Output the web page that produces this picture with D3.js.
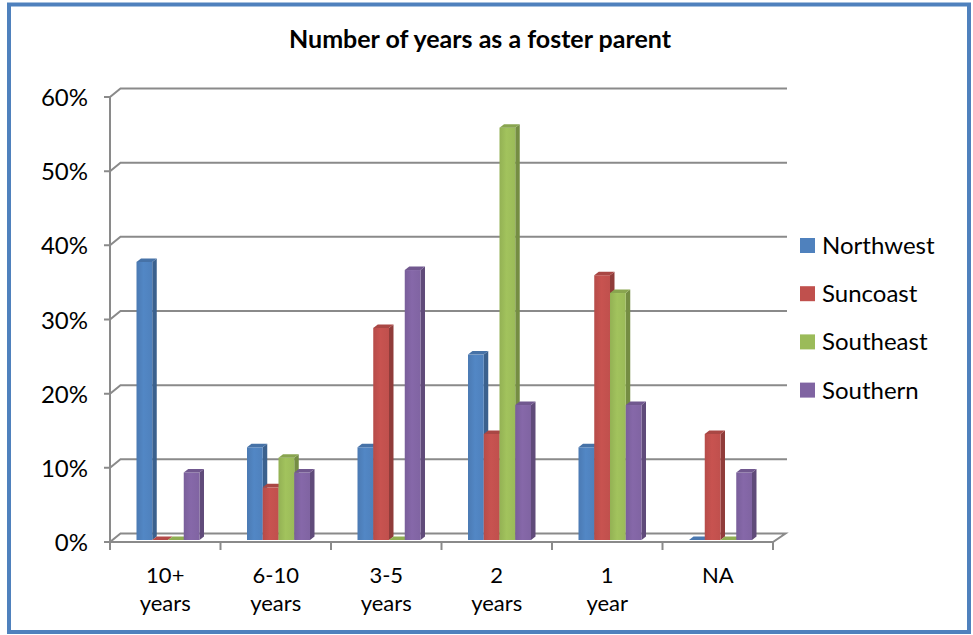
<!DOCTYPE html>
<html>
<head>
<meta charset="utf-8">
<script src="https://cdn.jsdelivr.net/npm/d3@7/dist/d3.min.js"></script>
<style>
body { margin: 0; background: #fff; }
svg text { font-family: Lato, "Open Sans", sans-serif; fill: #000; }
</style>
</head>
<body>
<div id="chart"></div>
<script>
// ---- data ----
var categories = ["10+ years", "6-10 years", "3-5 years", "2 years", "1 year", "NA"];
var labelLines = [["10+", "years"], ["6-10", "years"], ["3-5", "years"], ["2", "years"], ["1", "year"], ["NA"]];
var seriesNames = ["Northwest", "Suncoast", "Southeast", "Southern"];
var northwest = [37.5, 12.5, 12.5, 25, 12.5, 0];
var suncoast  = [0, 7.1, 28.6, 14.3, 35.7, 14.3];
var southeast = [0, 11.1, 0, 55.6, 33.3, 0];
var southern  = [9.1, 9.1, 36.4, 18.2, 18.2, 9.1];
var yTicks = [0, 10, 20, 30, 40, 50, 60];

var seriesValues = [northwest, suncoast, southeast, southern];
var colors = ["#4F81BD", "#C0504D", "#9BBB59", "#8064A2"];

var width = 973, height = 635;
var svg = d3.select("#chart").append("svg")
    .attr("width", width)
    .attr("height", height);

// outer border
svg.append("rect")
    .attr("x", 9).attr("y", 4.5)
    .attr("width", 960).attr("height", 627.5)
    .attr("fill", "#fff")
    .attr("stroke", "#4F81BD")
    .attr("stroke-width", 4);

// title
svg.append("text")
    .attr("x", 480).attr("y", 48)
    .attr("text-anchor", "middle")
    .attr("font-size", "25px")
    .attr("font-weight", "bold")
    .text("Number of years as a foster parent");

// scales (front plane) + depth offset for back wall
var x = d3.scaleBand().domain(d3.range(categories.length)).range([110, 773]);
var y = d3.scaleLinear().domain([0, 60]).range([542, 97]);
var depthX = 10.5, depthY = -8.5;
var xs = d3.scaleBand().domain(d3.range(seriesNames.length)).range([26.5, 89.5]);
var barShiftY = -2;          // bars sit a little behind the front plane
var bx = 4.5, by = -3.5;     // bar depth

var gridColor = "#8a8a8a";
var grid = svg.append("g").attr("stroke", gridColor).attr("stroke-width", 2).attr("fill", "none");

// floor
var x0 = x.range()[0], x1 = x.range()[1];
grid.append("path")
    .attr("fill", "#fff")
    .attr("d", "M" + x0 + "," + y(0) + "L" + x1 + "," + y(0) +
        "L" + (x1 + 12.5) + "," + (y(0) + depthY) +
        "L" + (x0 + depthX) + "," + (y(0) + depthY) + "Z");

// back wall gridlines
yTicks.forEach(function(t) {
    if (t === 0) return;
    grid.append("path")
        .attr("d", "M" + (x0 - 6) + "," + y(t) + "L" + x0 + "," + y(t) +
            "L" + (x0 + depthX) + "," + (y(t) + depthY) +
            "L" + (x1 + 14) + "," + (y(t) + depthY));
});
// left tick for 0
grid.append("path").attr("d", "M" + (x0 - 6) + "," + y(0) + "L" + x0 + "," + y(0));

// vertical axis line
grid.append("path").attr("d", "M" + x0 + "," + y(60) + "L" + x0 + "," + (y(0) + 8));

// category ticks
d3.range(categories.length + 1).forEach(function(i) {
    var xx = i < categories.length ? x(i) : x1;
    grid.append("path").attr("d", "M" + xx + "," + y(0) + "L" + xx + "," + (y(0) + 8));
});

// y labels
svg.append("g").selectAll("text")
    .data(yTicks)
    .enter().append("text")
    .attr("x", 88)
    .attr("y", function(d) { return y(d) + 9; })
    .attr("text-anchor", "end")
    .attr("font-size", "24px")
    .text(function(d) { return d + "%"; });

// bars
var defs = svg.append("defs");
colors.forEach(function(c, i) {
    var g = defs.append("linearGradient").attr("id", "grad" + i)
        .attr("x1", "0").attr("x2", "1").attr("y1", "0").attr("y2", "0");
    g.append("stop").attr("offset", "0").attr("stop-color", d3.color(c).darker(0.15));
    g.append("stop").attr("offset", "0.45").attr("stop-color", d3.color(c).brighter(0.12));
    g.append("stop").attr("offset", "1").attr("stop-color", c);
});

var bars = [];
seriesValues.forEach(function(vals, s) {
    vals.forEach(function(v, c) { bars.push({ s: s, c: c, v: v }); });
});
// draw in order so that later (right) series overlap side faces correctly
bars.sort(function(a, b) { return a.c - b.c || a.s - b.s; });

var barG = svg.append("g");
bars.forEach(function(d) {
    var left = x(d.c) + xs(d.s);
    var w = xs.bandwidth();
    var base = y(0) + barShiftY;
    var top = y(d.v) + barShiftY;
    var col = colors[d.s];
    var g = barG.append("g");
    if (d.v > 0) {
        g.append("path")
            .attr("fill", d3.color(col).darker(0.8))
            .attr("d", "M" + (left + w) + "," + top + "L" + (left + w + bx) + "," + (top + by) +
                "L" + (left + w + bx) + "," + (base + by) + "L" + (left + w) + "," + base + "Z");
        g.append("rect")
            .attr("x", left).attr("y", top)
            .attr("width", w).attr("height", base - top)
            .attr("fill", "url(#grad" + d.s + ")");
    }
    g.append("path")
        .attr("fill", d3.color(col).darker(d.v > 0 ? 0.35 : 0.2))
        .attr("d", "M" + left + "," + top + "L" + (left + w) + "," + top +
            "L" + (left + w + bx) + "," + (top + by) + "L" + (left + bx) + "," + (top + by) + "Z");
});

// x labels
var xl = svg.append("g");
labelLines.forEach(function(lines, i) {
    var t = xl.append("text")
        .attr("x", x(i) + x.bandwidth() / 2)
        .attr("y", 583)
        .attr("text-anchor", "middle")
        .attr("font-size", "22px");
    lines.forEach(function(l, j) {
        t.append("tspan")
            .attr("x", x(i) + x.bandwidth() / 2)
            .attr("dy", j === 0 ? 0 : 28)
            .text(l);
    });
});

// legend
var legend = svg.append("g").selectAll("g")
    .data(seriesNames)
    .enter().append("g")
    .attr("transform", function(d, i) { return "translate(800," + (238 + i * 48.2) + ")"; });
legend.append("rect")
    .attr("width", 15).attr("height", 15)
    .attr("fill", function(d, i) { return colors[i]; });
legend.append("text")
    .attr("x", 22).attr("y", 16)
    .attr("font-size", "24px")
    .text(function(d) { return d; });
</script>
</body>
</html>
